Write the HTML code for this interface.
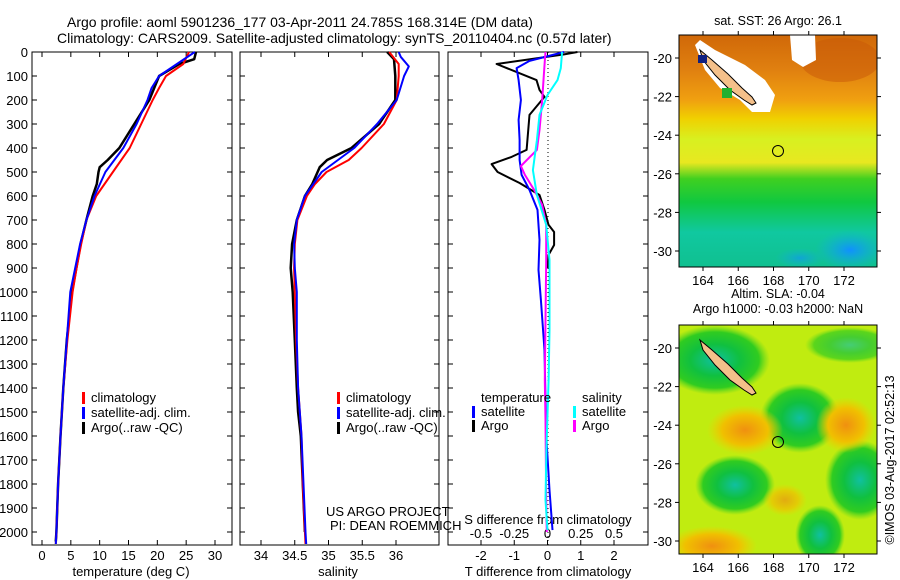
<!DOCTYPE html>
<html><head><meta charset="utf-8">
<style>
body{margin:0;background:#fff;}
svg{display:block;font-family:"Liberation Sans",sans-serif;}
text{font-size:13px;fill:#000;}
</style></head>
<body>
<svg id="fig" width="900" height="580" viewBox="0 0 900 580">
<defs>
<clipPath id="c1"><rect x="679" y="35" width="198" height="232"/></clipPath>
<clipPath id="c2"><rect x="679" y="325" width="198" height="229"/></clipPath>
<linearGradient id="sstGrad" x1="0" y1="0" x2="0" y2="1">
<stop offset="0" stop-color="#d06808"/><stop offset="0.15" stop-color="#e08010"/><stop offset="0.28" stop-color="#f0a010"/>
<stop offset="0.36" stop-color="#f0d000"/><stop offset="0.45" stop-color="#d8f020"/>
<stop offset="0.55" stop-color="#e8e820"/><stop offset="0.62" stop-color="#40d020"/>
<stop offset="0.72" stop-color="#10c840"/><stop offset="0.85" stop-color="#10c8a0"/>
<stop offset="1" stop-color="#10c090"/></linearGradient>
<radialGradient id="og"><stop offset="0" stop-color="#f09010"/><stop offset="0.6" stop-color="#f0c000"/><stop offset="1" stop-color="#f0d000" stop-opacity="0"/></radialGradient>
<radialGradient id="gg"><stop offset="0" stop-color="#10c0a0"/><stop offset="0.45" stop-color="#10c040"/><stop offset="0.8" stop-color="#30cc20"/><stop offset="1" stop-color="#60d820" stop-opacity="0"/></radialGradient>
<radialGradient id="bg"><stop offset="0" stop-color="#1090ff"/><stop offset="1" stop-color="#10b0e0" stop-opacity="0"/></radialGradient>
</defs>
<text x="67" y="27" style="font-size:14px">Argo profile: aoml 5901236_177 03-Apr-2011 24.785S 168.314E (DM data)</text>
<text x="57" y="43" style="font-size:14px">Climatology: CARS2009. Satellite-adjusted climatology: synTS_20110404.nc (0.57d later)</text>
<g id="plots"></g>

<!-- Map 1 SST -->
<g>
<g clip-path="url(#c1)">
<rect x="679" y="35" width="198" height="232" fill="url(#sstGrad)"/>
<ellipse cx="840" cy="60" rx="40" ry="22" fill="#c85808" opacity="0.5"/>
<ellipse cx="850" cy="250" rx="35" ry="20" fill="url(#bg)"/>
<ellipse cx="800" cy="258" rx="25" ry="10" fill="url(#bg)" opacity="0.6"/>
<polygon points="695,45 700,40 715,50 735,60 745,65 765,80 775,95 770,112 752,112 740,100 720,88 705,70" fill="#fff"/>
<polygon points="790,35 815,35 816,60 803,67 792,60" fill="#fff"/>
<polygon points="700,50 712,60 728,74 742,88 752,97 756,103 752,105 744,100 730,90 715,75 703,60" fill="#f4c08a" stroke="#000" stroke-width="1"/>
<rect x="698" y="55" width="9" height="8" fill="#102080"/>
<rect x="722" y="88" width="10" height="10" fill="#20b030"/>
</g>
<circle cx="778" cy="151" r="5.5" fill="none" stroke="#000"/>
<rect x="679" y="35" width="198" height="232" fill="none" stroke="#000"/>
<text x="778" y="25" text-anchor="middle" style="font-size:12.5px">sat. SST: 26 Argo: 26.1</text>
</g>
<!-- Map 2 SLA -->
<g>
<g clip-path="url(#c2)">
<rect x="679" y="325" width="198" height="229" fill="#c0ec10"/>
<ellipse cx="715" cy="360" rx="55" ry="35" fill="url(#gg)"/>
<ellipse cx="800" cy="418" rx="40" ry="35" fill="url(#gg)"/>
<ellipse cx="735" cy="485" rx="40" ry="30" fill="url(#gg)"/>
<ellipse cx="860" cy="480" rx="35" ry="40" fill="url(#gg)"/>
<ellipse cx="820" cy="535" rx="25" ry="30" fill="url(#gg)"/>
<ellipse cx="850" cy="345" rx="45" ry="18" fill="url(#gg)" opacity="0.7"/>
<ellipse cx="745" cy="430" rx="38" ry="25" fill="url(#og)"/>
<ellipse cx="846" cy="425" rx="30" ry="28" fill="url(#og)"/>
<ellipse cx="712" cy="546" rx="45" ry="20" fill="url(#og)"/>
<ellipse cx="785" cy="500" rx="22" ry="16" fill="url(#og)" opacity="0.7"/>
<polygon points="700,340 712,350 728,364 742,378 752,387 756,393 752,395 744,390 730,380 715,365 703,350" fill="#f4c08a" stroke="#000"/>
</g>
<circle cx="778" cy="442" r="5.5" fill="none" stroke="#000"/>
<rect x="679" y="325" width="198" height="229" fill="none" stroke="#000"/>
<text x="778" y="298" text-anchor="middle" style="font-size:12.5px">Altim. SLA: -0.04</text>
<text x="778" y="313" text-anchor="middle" style="font-size:12.5px">Argo h1000: -0.03 h2000: NaN</text>
</g>
<text transform="translate(894,460) rotate(-90)" text-anchor="middle" style="font-size:12.5px">©IMOS 03-Aug-2017 02:52:13</text>
</svg>
<script>
// ===== data =====
const depthTicks=[0,100,200,300,400,500,600,700,800,900,1000,1100,1200,1300,1400,1500,1600,1700,1800,1900,2000];
const tempTicks=[0,5,10,15,20,25,30];
const salTicks=[34,34.5,35,35.5,36];
const tdiffTicks=[-2,-1,0,1,2];
const sdiffTicks=[-0.5,-0.25,0,0.25,0.5];
const sdiffLabels=["-0.5","-0.25","0","0.25","0.5"];
const lonTicks=[164,166,168,170,172];
const latTicks=[-20,-22,-24,-26,-28,-30];
const latTicks2=[-20,-22,-24,-26,-28,-30];

const tClimD=[0,50,100,150,200,300,400,500,600,700,800,900,1000,1200,1400,1600,1800,2000,2050];
const tClimV=[25.5,24.5,21.5,20.3,19.2,17.2,15.2,12.3,9.4,7.7,6.8,6.0,5.3,4.4,3.7,3.2,2.8,2.5,2.4];
const tArgoD=[0,30,50,100,200,300,400,450,480,500,550,600,700,800,1000,1200,1400,1600,1800,2000,2040];
const tArgoV=[26.7,26.4,23.8,20.3,18.6,16.0,13.4,11.4,10.0,9.8,9.5,8.8,7.7,6.7,5.2,4.3,3.7,3.2,2.8,2.5,2.4];
const tSatD=[0,50,100,150,200,300,400,500,600,700,800,1000,1200,1400,1600,1800,2000,2050];
const tSatV=[26.5,23.4,20.3,19.0,18.3,16.4,14.1,11.0,9.1,7.7,6.6,4.9,4.3,3.7,3.2,2.8,2.5,2.4];

const sClimD=[0,50,100,200,300,400,450,500,550,600,700,800,900,1000,1200,1400,1600,1800,2000,2050];
const sClimV=[35.9,36.04,36.04,36.01,35.82,35.49,35.3,34.97,34.8,34.68,34.54,34.5,34.49,34.5,34.52,34.55,34.6,34.62,34.65,34.66];
const sArgoD=[0,30,100,200,300,400,450,480,550,600,700,800,900,1000,1200,1400,1500,1600,1800,2000];
const sArgoV=[35.87,35.97,35.99,35.99,35.75,35.34,34.98,34.87,34.76,34.65,34.53,34.46,34.44,34.47,34.5,34.53,34.55,34.59,34.62,34.65];
const sSatD=[0,20,60,100,200,300,400,500,600,700,800,900,1000,1200,1400,1600,1800,2000,2050];
const sSatV=[36.04,36.07,36.19,36.12,36.01,35.72,35.38,34.9,34.65,34.53,34.49,34.5,34.53,34.53,34.55,34.6,34.63,34.66,34.67];

const dTArgoD=[0,10,50,117,158,187,262,408,437,467,500,546,596,658,720,750,804,846,900];
const dTArgoV=[0.9,0.5,-1.53,-0.33,-0.24,-0.09,-0.54,-0.63,-1.08,-1.68,-1.5,-0.84,-0.24,-0.09,0.03,0.2,0.2,0.03,0.0];
const dTSatD=[0,37,67,117,200,283,367,450,512,575,658,783,908,1033,1242,1450,1617,1825,1992];
const dTSatV=[0.5,-0.54,-0.93,-0.87,-0.8,-0.87,-0.84,-0.84,-0.78,-0.54,-0.3,-0.24,-0.27,-0.2,-0.09,-0.06,-0.03,0.06,0.15];
const dSArgoD=[0,37,117,200,325,408,475,512,575,637,720,867,1117,1367,1533,1867,2000];
const dSArgoV=[-0.015,-0.02,-0.03,-0.04,-0.06,-0.08,-0.2,-0.17,-0.1,-0.04,-0.01,-0.01,-0.015,-0.02,-0.015,-0.01,-0.005];
const dSSatD=[0,67,117,179,262,367,492,596,720,867,1158,1367,1658,1867,1992];
const dSSatV=[0.11,0.1,0.075,0,-0.06,-0.08,-0.11,-0.08,-0.01,0.015,0.015,0.008,-0.008,-0.015,0.0];

// ===== drawing =====
const NS='http://www.w3.org/2000/svg';
const root=document.getElementById('plots');
function mk(tag,attrs,parent){const e=document.createElementNS(NS,tag);for(const k in attrs)e.setAttribute(k,attrs[k]);(parent||root).appendChild(e);return e;}
const Y0=52,Y1=545;
const yD=d=>Y0+d*0.24;
function axis(x0,x1,v0,v1){return v=>x0+(v-v0)/(v1-v0)*(x1-x0);}
const xT=axis(42,215,0,30), xS=axis(261,396,34,36), xTd=axis(481,614,-2,2), xSd=axis(481,614,-0.5,0.5);
const panels=[[32,232],[240,439],[448,648]];
panels.forEach((p,i)=>{
  const r=mk('rect',{x:p[0],y:Y0,width:p[1]-p[0],height:Y1-Y0,fill:'none',stroke:'#000'});
  
  
  depthTicks.forEach(d=>{mk('line',{x1:p[0],x2:p[0]+5,y1:yD(d),y2:yD(d),stroke:'#000'});mk('line',{x1:p[1],x2:p[1]-5,y1:yD(d),y2:yD(d),stroke:'#000'});});
});
depthTicks.forEach(d=>{const t=mk('text',{x:28,y:yD(d)+5,'text-anchor':'end'});t.textContent=d;
  
  });
function xticks(ticks,fx,labels,ly){ticks.forEach((v,i)=>{const x=fx(v);mk('line',{x1:x,x2:x,y1:Y1,y2:Y1-5,stroke:'#000'});mk('line',{x1:x,x2:x,y1:Y0,y2:Y0+5,stroke:'#000'});
  const t=mk('text',{x:x,y:ly,'text-anchor':'middle'});t.textContent=labels?labels[i]:v;
  
  });}
xticks(tempTicks,xT,null,560);xticks(salTicks,xS,null,560);xticks(tdiffTicks,xTd,null,560);
sdiffTicks.forEach((v,i)=>{const t=mk('text',{x:xSd(v),y:538,'text-anchor':'middle'});t.textContent=sdiffLabels[i];
  
  });
function label(txt,x,y,name,anchor){const t=mk('text',{x:x,y:y,'text-anchor':anchor||'middle'});t.textContent=txt;
  
  }
label('temperature (deg C)',131,576,'x-axis-title-temperature');
label('salinity',338,576,'x-axis-title-salinity');
label('T difference from climatology',548,576,'x-axis-title-tdiff');
label('S difference from climatology',548,524,'s-diff-axis-title');
label('US ARGO PROJECT',326,516,'project-label','start');
label('PI: DEAN ROEMMICH',330,530,'pi-label','start');
mk('line',{x1:548,x2:548,y1:Y0,y2:Y1,stroke:'#000','stroke-dasharray':'1,3'});
function line(D,V,fx,color,name,w){const pts=D.map((d,i)=>fx(V[i]).toFixed(1)+','+yD(d).toFixed(1)).join(' ');
  const p=mk('polyline',{points:pts,fill:'none',stroke:color,'stroke-width':w||2,'stroke-linejoin':'round'});
  
  }
line(tArgoD,tArgoV,xT,'#000','temp-argo-line',2.5);line(tClimD,tClimV,xT,'#f00','temp-clim-line');line(tSatD,tSatV,xT,'#00f','temp-sat-line');
line(sArgoD,sArgoV,xS,'#000','sal-argo-line',2.5);line(sClimD,sClimV,xS,'#f00','sal-clim-line');line(sSatD,sSatV,xS,'#00f','sal-sat-line');
line(dTArgoD,dTArgoV,xTd,'#000','tdiff-argo-line');line(dTSatD,dTSatV,xTd,'#00f','tdiff-sat-line');
line(dSArgoD,dSArgoV,xSd,'#f0f','sdiff-argo-line');line(dSSatD,dSSatV,xSd,'#0ff','sdiff-sat-line');
function leg(x,y,c,txt,name){mk('rect',{x:x,y:y-10,width:3,height:12,fill:c});const t=mk('text',{x:x+9,y:y});t.textContent=txt;
  
  }
[[82],[337]].forEach((o,i)=>{leg(o[0],402,'#f00','climatology','legend-climatology');leg(o[0],417,'#00f','satellite-adj. clim.','legend-satellite-adj');leg(o[0],432,'#000','Argo(..raw -QC)','legend-argo');});
label('temperature',481,402,'legend-temperature-header','start');
label('salinity',582,402,'legend-salinity-header','start');
leg(472,416,'#00f','satellite','legend-t-satellite');leg(472,430,'#000','Argo','legend-t-argo');
leg(573,416,'#0ff','satellite','legend-s-satellite');leg(573,430,'#f0f','Argo','legend-s-argo');
// map axes
const lonX=axis(703,844,164,172);
const lat1=axis(58,251,-20,-30), lat2=axis(348,541,-20,-30);
[[35,267,lat1,latTicks],[325,554,lat2,latTicks2]].forEach(m=>{
  lonTicks.forEach(l=>{const x=lonX(l);mk('line',{x1:x,x2:x,y1:m[0],y2:m[0]-4,stroke:'#000'});mk('line',{x1:x,x2:x,y1:m[1],y2:m[1]+4,stroke:'#000'});
    const t=mk('text',{x:x,y:m[1]+18,'text-anchor':'middle'});t.textContent=l;
    
    });
  m[3].forEach(l=>{const y=m[2](l);if(y<m[0]||y>m[1])return;mk('line',{x1:675,x2:679,y1:y,y2:y,stroke:'#000'});mk('line',{x1:877,x2:881,y1:y,y2:y,stroke:'#000'});
    const t=mk('text',{x:672,y:y+5,'text-anchor':'end'});t.textContent=l;
    
    });
});
</script>
</body></html>
